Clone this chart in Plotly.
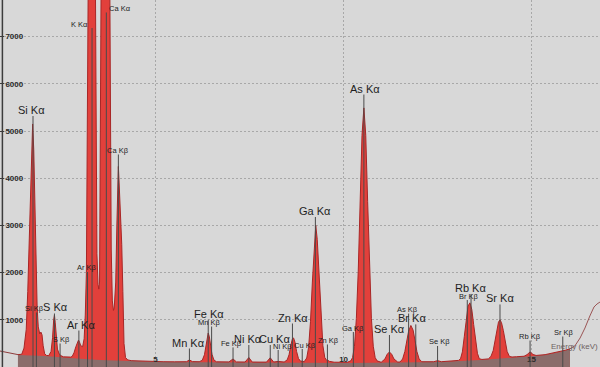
import plotly.graph_objects as go

# ---------------- data ----------------
# measured spectrum (keV, counts) inside the fitted-background window
spec_keV = [1.34, 1.44, 1.50, 1.56, 1.60, 1.64, 1.68, 1.71, 1.73, 1.76, 1.79, 1.82, 1.85, 1.88, 1.92,
            1.95, 1.98, 2.01, 2.05, 2.10, 2.16, 2.22, 2.26, 2.29, 2.31, 2.33, 2.36, 2.39, 2.43, 2.47,
            2.55, 2.65, 2.74, 2.78, 2.83, 2.88, 2.92, 2.95, 2.98, 3.01, 3.04, 3.06, 3.10, 3.13, 3.16,
            3.18, 3.20, 3.23, 3.27, 3.31, 3.35, 3.38, 3.41, 3.425, 3.44, 3.47, 3.49, 3.51, 3.54, 3.55,
            3.57, 3.62, 3.69, 3.74, 3.77, 3.79, 3.80, 3.82, 3.85, 3.88, 3.90, 3.94, 3.97, 3.99, 4.01,
            4.03, 4.06, 4.10, 4.13, 4.16, 4.20, 4.26, 4.35, 4.60, 4.90, 5.20, 5.50, 5.75, 5.82, 5.90,
            5.98, 6.16, 6.24, 6.30, 6.34, 6.37, 6.40, 6.43, 6.46, 6.50, 6.55, 6.62, 6.95, 7.06, 7.15,
            7.38, 7.48, 7.57, 7.75, 7.95, 8.05, 8.14, 8.26, 8.36, 8.42, 8.50, 8.55, 8.60, 8.64, 8.67,
            8.71, 8.75, 8.80, 8.86, 8.90, 8.95, 9.02, 9.07, 9.12, 9.17, 9.22, 9.26, 9.30, 9.35, 9.40,
            9.45, 9.50, 9.55, 9.57, 9.62, 9.75, 9.95, 10.10, 10.19, 10.24, 10.29, 10.34, 10.39, 10.44,
            10.49, 10.54, 10.59, 10.64, 10.69, 10.74, 10.79, 10.84, 10.89, 10.95, 11.00, 11.10, 11.16,
            11.22, 11.28, 11.34, 11.44, 11.50, 11.57, 11.63, 11.68, 11.73, 11.79, 11.85, 11.90, 11.95,
            12.01, 12.08, 12.40, 12.50, 12.60, 12.80, 13.06, 13.11, 13.16, 13.21, 13.26, 13.31, 13.36,
            13.41, 13.46, 13.51, 13.56, 13.61, 13.68, 13.85, 13.92, 13.98, 14.03, 14.08, 14.12, 14.16,
            14.20, 14.25, 14.30, 14.35, 14.41, 14.48, 14.60, 14.80, 14.88, 14.96, 15.04, 15.12, 15.36,
            15.60, 15.76, 15.83, 15.90, 16.02]
spec_counts = [262, 270, 400, 800, 1600, 2800, 4200, 5000, 5150, 4600, 3300, 2000, 1250, 850, 700,
               740, 680, 450, 280, 245, 242, 330, 620, 1000, 1100, 950, 600, 380, 290, 245,
               215, 205, 210, 222, 300, 430, 540, 570, 520, 450, 440, 430, 600, 1100, 2000,
               4500, 9000, 11000, 12500, 13000, 12500, 11000, 7000, 4300, 2400, 1750, 1650, 1800, 5000, 8000,
               10500, 12500, 13000, 12500, 10000, 7000, 5500, 2500, 1400, 1200, 1250, 1800, 3000, 3900, 4250,
               3900, 3300, 2600, 1600, 500, 200, 150, 135, 125, 118, 112, 110, 112, 112, 150,
               114, 112, 140, 260, 450, 640, 720, 640, 460, 270, 150, 110, 108, 170, 108,
               106, 200, 106, 104, 104, 195, 106, 118, 104, 106, 150, 260, 470, 600, 615,
               520, 330, 180, 120, 125, 110, 190, 420, 960, 1800, 2640, 3000, 2700, 1850, 1000,
               450, 200, 140, 150, 120, 102, 98, 100, 130, 200, 440, 1030, 2030, 3510,
               4910, 5490, 4910, 3510, 2030, 1030, 440, 200, 130, 110, 100, 170, 270,
               318, 270, 170, 105, 106, 170, 330, 540, 760, 880, 780, 560, 330,
               170, 112, 112, 135, 112, 122, 140, 175, 320, 640, 1040, 1290, 1360,
               1220, 900, 540, 290, 175, 160, 172, 225, 350, 560, 800, 950, 1000,
               940, 770, 530, 330, 225, 212, 218, 228, 262, 320, 265, 245, 262,
               300, 325, 338, 356, 385]

# spectrum outside the fitted window
left_keV = [0.86, 1.00, 1.13, 1.26, 1.34]
left_counts = [339, 318, 297, 275, 262]
right_keV = [16.02, 16.15, 16.29, 16.42, 16.55, 16.66, 16.74, 16.82]
right_counts = [385, 445, 614, 826, 1081, 1271, 1335, 1377]

# fitted background continuum
bg_keV = [1.34, 2.06, 2.72, 3.52, 4.32, 5.12, 7.51, 10.17, 12.56, 13.63, 14.69, 15.36, 15.76, 16.02]
bg_counts = [254, 233, 190, 148, 127, 106, 95, 85, 106, 148, 212, 254, 318, 381]

# identified emission lines
line_names = ["Si Kα", "Si Kβ", "S Kα", "S Kβ", "Ar Kα", "Ar Kβ", "K Kα", "Ca Kα", "Ca Kβ",
              "Mn Kα", "Fe Kα", "Mn Kβ", "Fe Kβ", "Ni Kα", "Cu Kα", "Ni Kβ", "Zn Kα", "Cu Kβ",
              "Ga Kα", "Zn Kβ", "Ga Kβ", "As Kα", "Se Kα", "As Kβ", "Br Kα", "Se Kβ",
              "Rb Kα", "Br Kβ", "Sr Kα", "Rb Kβ", "Sr Kβ"]
line_keV = [1.74, 1.83, 2.31, 2.46, 2.96, 3.19, 3.31, 3.69, 4.01,
            5.90, 6.40, 6.49, 7.06, 7.48, 8.05, 8.26, 8.64, 8.90,
            9.25, 9.57, 10.26, 10.54, 11.22, 11.73, 11.92, 12.50,
            13.39, 13.29, 14.16, 14.96, 15.83]

x_ticks = [5, 10, 15]
y_ticks = [1000, 2000, 3000, 4000, 5000, 6000, 7000]

# ---------------- label placement (layout only) ----------------
label_level = [5446, 1240, 1261, 583, 900, 2098, 7268, 7597, 4588,
               519, 1130, 943, 500, 593, 593, 445, 1049, 466,
               3306, 562, 826, 5901, 805, 1217, 1030, 530,
               1675, 1504, 1452, 646, 731]
label_big = [1, 0, 1, 0, 1, 0, 0, 0, 0,
             1, 1, 0, 0, 1, 1, 0, 1, 0,
             1, 0, 0, 1, 1, 0, 1, 0,
             1, 0, 1, 0, 0]
label_dx = [-2, -2, 1, 1, 2, -1, -13, 14, 0,
            -1, 1, -2, -2, -1, 4, 4, 1, 3,
            0, 1, 0, 1, 0, -1, -4, 2,
            -1, 2, 0, 0, 1]

Y_MAX = 7777
PX = Y_MAX / 367.0  # counts per pixel
FONT = "Liberation Sans, Arial, sans-serif"

fig = go.Figure()

# red peak fill
fig.add_trace(go.Scatter(x=spec_keV, y=spec_counts, mode="lines", fill="tozeroy",
                         fillcolor="#e2403b", line=dict(width=0), hoverinfo="skip",
                         showlegend=False))
# background continuum band
fig.add_trace(go.Scatter(x=bg_keV, y=bg_counts, mode="lines", fill="tozeroy",
                         fillcolor="#8b6d6b", line=dict(width=0, color="#8b6d6b"),
                         hoverinfo="skip", showlegend=False))
# spectrum outline
fig.add_trace(go.Scatter(x=spec_keV, y=spec_counts, mode="lines",
                         line=dict(width=1, color="#a82626"), hoverinfo="skip",
                         showlegend=False))
fig.add_trace(go.Scatter(x=left_keV, y=left_counts, mode="lines",
                         line=dict(width=1, color="#8e3c3c"), showlegend=False))
fig.add_trace(go.Scatter(x=right_keV, y=right_counts, mode="lines",
                         line=dict(width=1, color="#9b5555"), showlegend=False))

shapes = []
annotations = []
for name, e, lvl, big, dx in zip(line_names, line_keV, label_level, label_big, label_dx):
    half = (6 if big else 4) * PX
    shapes.append(dict(type="line", xref="x", yref="y", x0=e, x1=e, y0=0, y1=lvl - half,
                       line=dict(color="#4a4a4a", width=1), layer="above"))
    annotations.append(dict(x=e, y=lvl, xref="x", yref="y", text=name, showarrow=False,
                            xshift=dx, xanchor="center", yanchor="middle",
                            font=dict(family=FONT, size=11 if big else 7.5, color="#1e1e1e")))

annotations.append(dict(x=1.0, y=434, xref="paper", yref="y", text="Energy (keV)",
                        showarrow=False, xanchor="right", yanchor="middle",
                        font=dict(family=FONT, size=8, color="#6e6262")))

# left axis line
shapes.append(dict(type="line", xref="paper", yref="paper", x0=0.004, x1=0.004, y0=0, y1=1,
                   line=dict(color="#3c3c3c", width=1.5), layer="above"))

tickfont = dict(family=FONT, size=8, color="#2a2a2a", weight="bold")
fig.update_layout(
    width=600, height=367,
    margin=dict(l=0, r=0, t=0, b=0),
    paper_bgcolor="#d8d8d8", plot_bgcolor="#d8d8d8",
    shapes=shapes, annotations=annotations,
    showlegend=False,
    xaxis=dict(range=[0.862, 16.82], tickvals=x_ticks, ticktext=[str(v) for v in x_ticks],
               ticklabelposition="inside", ticks="", showgrid=True, gridcolor="#a8a8a8",
               griddash="2px,2px", gridwidth=1, zeroline=False, showline=False,
               tickfont=tickfont),
    yaxis=dict(range=[0, Y_MAX], tickvals=y_ticks, ticktext=[str(v) for v in y_ticks],
               ticklabelposition="inside", ticks="inside", ticklen=4, tickcolor="#3c3c3c",
               showgrid=True, gridcolor="#a8a8a8", griddash="2px,2px", gridwidth=1,
               zeroline=False, showline=False, tickfont=tickfont),
)

fig.write_html("out.html")
